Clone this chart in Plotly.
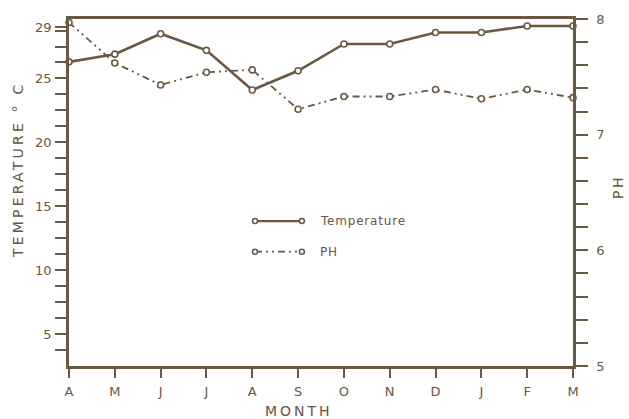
import plotly.graph_objects as go

# Monthly readings, April through March
months = ["A", "M", "J", "J", "A", "S", "O", "N", "D", "J", "F", "M"]
temperature = [26.3, 26.9, 28.5, 27.2, 24.1, 25.6, 27.7, 27.7, 28.6, 28.6, 29.1, 29.1]
ph = [7.97, 7.62, 7.43, 7.54, 7.56, 7.22, 7.33, 7.33, 7.39, 7.31, 7.39, 7.32]

temp_ticks = [5, 10, 15, 20, 25, 29]
ph_ticks = [5, 6, 7, 8]

INK = "#6b5842"
TEXT = "#6a5641"
FONT = "DejaVu Sans"

x = list(range(len(months)))

fig = go.Figure()

fig.add_trace(go.Scatter(
    x=x, y=temperature, name="Temperature", mode="lines+markers",
    line=dict(color=INK, width=2.6),
    marker=dict(symbol="circle", size=6, color="white", line=dict(color=INK, width=1.6)),
    cliponaxis=False, showlegend=False,
))

fig.add_trace(go.Scatter(
    x=x, y=ph, name="PH", mode="lines+markers", yaxis="y2",
    line=dict(color=INK, width=1.8, dash="7px,4px,2px,4px,2px,4px"),
    marker=dict(symbol="circle", size=6, color="white", line=dict(color=INK, width=1.6)),
    cliponaxis=False, showlegend=False,
))

minor_temp = [v * 1.25 for v in range(3, 24)]

fig.update_layout(
    width=629, height=419,
    margin=dict(l=69, r=56, t=14, b=53),
    paper_bgcolor="white", plot_bgcolor="white",
    font=dict(family=FONT, color=TEXT, size=13),
    xaxis=dict(
        range=[0, 11], tickmode="array", tickvals=x, ticktext=months,
        showgrid=False, zeroline=False,
        showline=True, linecolor=INK, linewidth=2.5, mirror=True,
        ticks="outside", ticklen=9, tickwidth=2, tickcolor=INK,
        tickfont=dict(size=13, color=TEXT), ticklabelstandoff=3,
    ),
    yaxis=dict(
        range=[2.52, 29.65], tickmode="array", tickvals=temp_ticks,
        showgrid=False, zeroline=False,
        showline=True, linecolor=INK, linewidth=2.5,
        ticks="outside", ticklen=11, tickwidth=2, tickcolor=INK,
        tickfont=dict(size=13, color=TEXT), ticklabelstandoff=1,
        minor=dict(tickmode="array", tickvals=minor_temp, ticks="outside",
                   ticklen=11, tickwidth=2, tickcolor=INK),
    ),
    yaxis2=dict(
        range=[5, 8], overlaying="y", side="right", tickmode="array", tickvals=ph_ticks,
        showgrid=False, zeroline=False,
        showline=True, linecolor=INK, linewidth=2.5,
        ticks="outside", ticklen=12, tickwidth=2, tickcolor=INK,
        tickfont=dict(size=13, color=TEXT), ticklabelstandoff=6,
        minor=dict(dtick=0.2, tick0=5, ticks="outside", ticklen=12, tickwidth=2, tickcolor=INK),
    ),
)

def spaced(text, px):
    return f'<span style="letter-spacing:{px}px">{text}</span>'

# Axis titles
fig.add_annotation(text=spaced("TEMPERATURE ° C", 3.2), xref="paper", yref="paper",
                   x=-0.101, y=0.565, xanchor="center", yanchor="middle",
                   showarrow=False, textangle=-90, font=dict(size=14, color=TEXT))
fig.add_annotation(text=spaced("PH", 2.5), xref="paper", yref="paper",
                   x=1.088, y=0.517, xanchor="center", yanchor="middle",
                   showarrow=False, textangle=-90, font=dict(size=14, color=TEXT))
fig.add_annotation(text=spaced("MONTH", 3), xref="paper", yref="paper",
                   x=0.456, y=-0.129, xanchor="center", yanchor="middle",
                   showarrow=False, font=dict(size=14, color=TEXT))

# Key drawn inside the plot: a line with open circles at both ends, then the label
key = [("Temperature", 0.4176, "solid", 2.4), ("PH", 0.3295, "7px,4px,2px,4px,2px,4px", 1.6)]
x0, x1 = 0.369, 0.462
for label, yk, dash, w in key:
    fig.add_shape(type="line", xref="paper", yref="paper", x0=x0, x1=x1, y0=yk, y1=yk,
                  line=dict(color=INK, width=w, dash=dash))
    for xc in (x0, x1):
        fig.add_shape(type="circle", xref="paper", yref="paper",
                      xsizemode="pixel", ysizemode="pixel", xanchor=xc, yanchor=yk,
                      x0=-2.5, x1=2.5, y0=-2.5, y1=2.5,
                      line=dict(color=INK, width=1.5), fillcolor="white")
    fig.add_annotation(text=spaced(label, 0.8), xref="paper", yref="paper",
                       x=0.494, y=yk, xanchor="left", yanchor="middle", showarrow=False,
                       font=dict(size=12, color=TEXT))

fig.write_html("out.html")
